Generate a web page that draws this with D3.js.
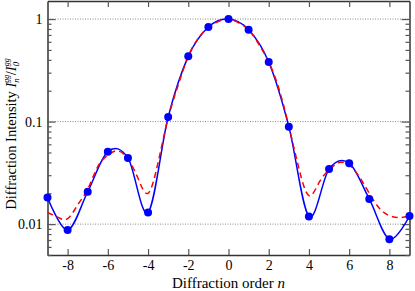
<!DOCTYPE html>
<html>
<head>
<meta charset="utf-8">
<script src="https://cdn.jsdelivr.net/npm/d3@7"></script>
<style>
  body { margin: 0; background: #fff; }
  svg text { font-family: "Liberation Serif", "Times New Roman", serif; fill: #000; }
</style>
</head>
<body>
<svg id="chart" width="415" height="291"></svg>
<script>
// measured diffraction intensities, orders -9..9
var orders = [-9, -8, -7, -6, -5, -4, -3, -2, -1, 0, 1, 2, 3, 4, 5, 6, 7, 8, 9];
var measured = [0.0182, 0.00875, 0.0207, 0.0509, 0.0442, 0.0130, 0.111, 0.433, 0.836, 1.0,
                0.787, 0.381, 0.0893, 0.0119, 0.0344, 0.0393, 0.0176, 0.00714, 0.0120];

// theory curve (red dashed), read at half orders
var theoryN = [-9, -8.5, -8, -7.5, -7, -6.5, -6, -5.5, -5, -4.5, -4, -3.5, -3, -2.5, -2, -1.5, -1, -0.5,
               0, 0.5, 1, 1.5, 2, 2.5, 3, 3.5, 4, 4.5, 5, 5.5, 6, 6.5, 7, 7.5, 8, 8.5, 9];
var theoryI = [0.0130, 0.0117, 0.0113, 0.0154, 0.0220, 0.0363, 0.0470, 0.0518, 0.0430, 0.0280, 0.0200, 0.0400,
               0.108, 0.228, 0.433, 0.649, 0.836, 0.948, 1.0, 0.92, 0.787, 0.571, 0.381, 0.211, 0.090,
               0.035, 0.0190, 0.0254, 0.0338, 0.0398, 0.0378, 0.0290, 0.0200, 0.0143, 0.0121, 0.0116, 0.0120];

var xTicks = [-8, -6, -4, -2, 0, 2, 4, 6, 8];
var yMajor = [0.01, 0.1, 1];
var yLabels = ["0.01", "0.1", "1"];

var svg = d3.select('#chart');
var padding = {t: 1, r: 5.5, b: 36, l: 47.5};
var W = +svg.attr('width'), H = +svg.attr('height');
var x = d3.scaleLinear().domain([-9, 9]).range([padding.l, W - padding.r]);
var y = d3.scaleLog().domain([0.005, 1.5]).range([H - padding.b, padding.t]);

// minor ticks for log axis
var yMinor = [];
[0.001, 0.01, 0.1].forEach(function(dec) {
    for (var k = 2; k <= 9; k++) {
        var v = k * dec;
        if (v >= 0.005 && v <= 1.5) yMinor.push(v);
    }
});

// dotted grid at decades
svg.append('g').selectAll('line').data(yMajor).enter().append('line')
    .attr('x1', x(-9)).attr('x2', x(9))
    .attr('y1', d => y(d)).attr('y2', d => y(d))
    .attr('stroke', '#888').attr('stroke-width', 1).attr('stroke-dasharray', '1,1.5');

// axes: bottom / top with inward ticks
svg.append('g')
    .attr('transform', 'translate(0,' + y.range()[0] + ')')
    .call(d3.axisBottom(x).tickValues(xTicks).tickSizeInner(-6).tickSizeOuter(0).tickPadding(5)
        .tickFormat(d => d))
    .call(g => g.selectAll('text').attr('font-size', 14));
svg.append('g')
    .attr('transform', 'translate(0,' + y.range()[1] + ')')
    .call(d3.axisTop(x).tickValues(xTicks).tickSizeInner(-6).tickSizeOuter(0).tickFormat(''));

// y axes: major + minor
function yAxis(side, labels) {
    var ax = side === 'left' ? d3.axisLeft : d3.axisRight;
    var pos = side === 'left' ? x(-9) : x(9);
    var g = svg.append('g').attr('transform', 'translate(' + pos + ',0)');
    g.call(ax(y).tickValues(yMajor).tickSizeInner(-8).tickSizeOuter(0).tickPadding(5)
        .tickFormat(function(d, i) { return labels ? yLabels[i] : ''; }))
        .call(g => g.selectAll('text').attr('font-size', 14));
    g.append('g').call(ax(y).tickValues(yMinor).tickSizeInner(-4).tickSizeOuter(0).tickFormat(''))
        .call(g => g.select('.domain').remove());
}
yAxis('left', true);
yAxis('right', false);

svg.selectAll('.domain').attr('stroke', '#333').attr('stroke-width', 1.5);
svg.selectAll('.tick line').attr('stroke', '#555').attr('stroke-width', 1.2);

// curves
svg.append('path')
    .datum(orders.map((n, i) => [x(n), y(measured[i])]))
    .attr('d', d3.line().curve(d3.curveCardinal.tension(0)))
    .attr('fill', 'none').attr('stroke', '#0000ff').attr('stroke-width', 1.5);
svg.append('path')
    .datum(theoryN.map((n, i) => [x(n), y(theoryI[i])]))
    .attr('d', d3.line().curve(d3.curveNatural))
    .attr('fill', 'none').attr('stroke', '#ff0000').attr('stroke-width', 1.5)
    .attr('stroke-dasharray', '6,4');

svg.append('g').selectAll('circle').data(orders).enter().append('circle')
    .attr('cx', d => x(d)).attr('cy', (d, i) => y(measured[i])).attr('r', 4)
    .attr('fill', '#0000ff');

// labels
var xl = svg.append('text').attr('x', x(0)).attr('y', 288).attr('text-anchor', 'middle').attr('font-size', 15);
xl.append('tspan').text('Diffraction order ');
xl.append('tspan').attr('font-style', 'italic').text('n');

var yl = svg.append('text').attr('text-anchor', 'middle').attr('font-size', 14.5)
    .attr('transform', 'translate(16,' + ((y.range()[0] + y.range()[1]) / 2 + 6) + ') rotate(-90)');
yl.append('tspan').text('Diffraction Intensity ');
yl.append('tspan').attr('font-style', 'italic').text('I');
yl.append('tspan').attr('font-size', 8).attr('dy', -7).attr('font-style', 'italic').text('gg');
yl.append('tspan').attr('font-size', 9).attr('dx', -8).attr('dy', 10).attr('font-style', 'italic').text('n');
yl.append('tspan').attr('dx', 3).attr('dy', -3).text('/');
yl.append('tspan').attr('font-style', 'italic').text('I');
yl.append('tspan').attr('font-size', 8).attr('dy', -7).attr('font-style', 'italic').text('gg');
yl.append('tspan').attr('font-size', 9).attr('dx', -8).attr('dy', 10).attr('font-style', 'italic').text('0');
</script>
</body>
</html>
